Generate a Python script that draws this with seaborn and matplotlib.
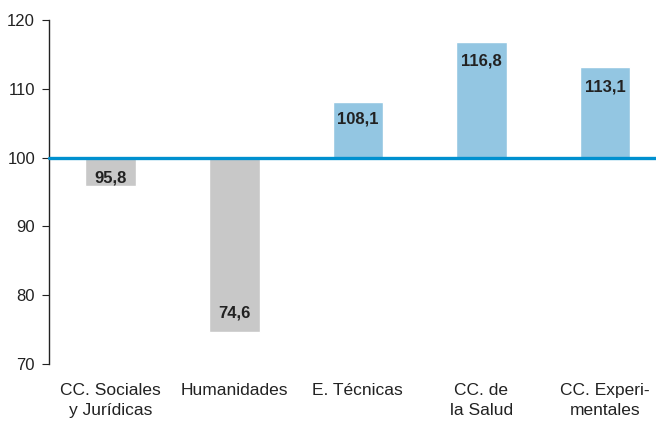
import matplotlib
matplotlib.use("Agg")
import matplotlib.pyplot as plt
import seaborn as sns
import pandas as pd

categories = ["CC. Sociales\ny Jurídicas", "Humanidades", "E. Técnicas", "CC. de\nla Salud", "CC. Experi-\nmentales"]
values = [95.8, 74.6, 108.1, 116.8, 113.1]
labels = ["95,8", "74,6", "108,1", "116,8", "113,1"]
baseline = 100
yticks = [70, 80, 90, 100, 110, 120]

sns.set_theme(style="white")
plt.rcParams["font.family"] = ["Liberation Sans", "DejaVu Sans"]

df = pd.DataFrame({"cat": categories, "diff": [v - baseline for v in values]})
colors = ["#C8C8C8" if v < baseline else "#93C6E2" for v in values]

fig = plt.figure(figsize=(6.56, 4.22), dpi=100)
ax = fig.add_axes([49 / 656, 58 / 422, 1 - 49 / 656, (364 - 20) / 422])

sns.barplot(data=df, x="cat", y="diff", hue="cat", palette=colors, legend=False,
            errorbar=None, width=0.41, bottom=baseline, ax=ax, saturation=1)

ax.set_ylim(70, 120)
ax.set_xlim(-0.5, 4.413)
ax.set_yticks(yticks)
ax.set_xlabel("")
ax.set_ylabel("")
ax.axhline(baseline, color="#0090CF", lw=2.4, zorder=5, clip_on=False)

for i, (v, lab) in enumerate(zip(values, labels)):
    d = v - baseline
    off = min(2.8, abs(d) * 0.3)
    y = v - off if d > 0 else v + off
    ax.text(i, y, lab, ha="center", va="center", fontsize=12, fontweight="bold", color="#222222")

for s in ["top", "right", "bottom"]:
    ax.spines[s].set_visible(False)
ax.spines["left"].set_color("#222222")
ax.spines["left"].set_linewidth(1.0)
ax.tick_params(axis="y", left=True, length=5, width=0.8, color="#222222", labelsize=12, labelcolor="#222222", pad=5)
ax.tick_params(axis="x", bottom=False, labelsize=12.5, labelcolor="#222222", pad=8)
for t in ax.get_xticklabels():
    t.set_linespacing(1.35)

fig.savefig("out.png", dpi=100)
